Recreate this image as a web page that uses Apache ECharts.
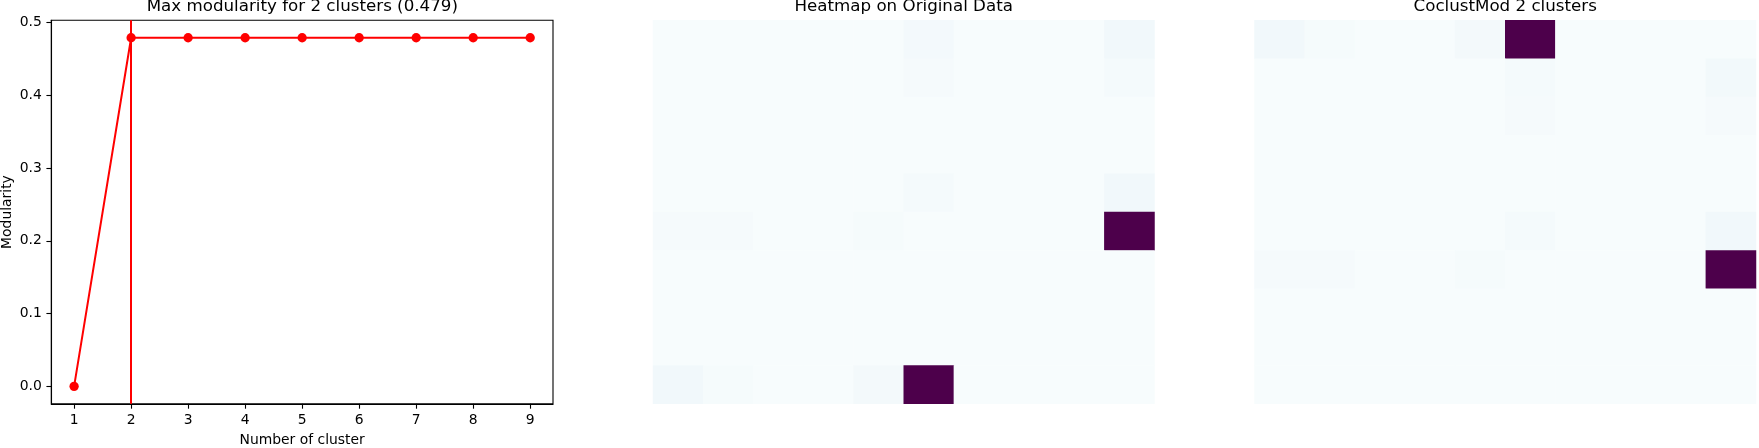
<!DOCTYPE html>
<html>
<head>
<meta charset="utf-8">
<script src="https://cdn.jsdelivr.net/npm/echarts@6/dist/echarts.min.js"></script>
<style>
html,body{margin:0;padding:0;background:#fff;}
#chart{width:1759px;height:448px;}
</style>
</head>
<body>
<div id="chart"></div>
<script>
// ---- data ----
const clusterCounts = [1, 2, 3, 4, 5, 6, 7, 8, 9];
const modularity = [0.0, 0.479, 0.479, 0.479, 0.479, 0.479, 0.479, 0.479, 0.479];
const bestCluster = 2;
const xTicks = [1, 2, 3, 4, 5, 6, 7, 8, 9];
const yTicks = [0.0, 0.1, 0.2, 0.3, 0.4, 0.5];
const titles = ['Max modularity for 2 clusters (0.479)', 'Heatmap on Original Data', 'CoclustMod 2 clusters'];
const xName = 'Number of cluster';
const yName = 'Modularity';
const heatCols = ['0','1','2','3','4','5','6','7','8','9'];
const heatRows = ['0','1','2','3','4','5','6','7','8','9'];
// original data (row 0 = top)
const originalData = [
  [0, 0, 0, 0, 0, 0.020, 0, 0, 0, 0.030],
  [0, 0, 0, 0, 0, 0.012, 0, 0, 0, 0.015],
  [0, 0, 0, 0, 0, 0, 0, 0, 0, 0],
  [0, 0, 0, 0, 0, 0, 0, 0, 0, 0],
  [0, 0, 0, 0, 0, 0.015, 0, 0, 0, 0.030],
  [0.012, 0.012, 0, 0, 0.010, 0, 0, 0, 0, 1.0],
  [0, 0, 0, 0, 0, 0, 0, 0, 0, 0],
  [0, 0, 0, 0, 0, 0, 0, 0, 0, 0],
  [0, 0, 0, 0, 0, 0, 0, 0, 0, 0],
  [0.030, 0.010, 0, 0, 0.022, 1.0, 0, 0, 0, 0]
];
// co-clustered (reordered) data
const coclustData = [
  [0.030, 0.010, 0, 0, 0.022, 1.0, 0, 0, 0, 0],
  [0, 0, 0, 0, 0, 0.015, 0, 0, 0, 0.025],
  [0, 0, 0, 0, 0, 0.012, 0, 0, 0, 0.012],
  [0, 0, 0, 0, 0, 0, 0, 0, 0, 0],
  [0, 0, 0, 0, 0, 0, 0, 0, 0, 0],
  [0, 0, 0, 0, 0, 0.015, 0, 0, 0, 0.030],
  [0.012, 0.012, 0, 0, 0.010, 0, 0, 0, 0, 1.0],
  [0, 0, 0, 0, 0, 0, 0, 0, 0, 0],
  [0, 0, 0, 0, 0, 0, 0, 0, 0, 0],
  [0, 0, 0, 0, 0, 0, 0, 0, 0, 0]
];
const buPu = ['#f7fcfd','#e0ecf4','#bfd3e6','#9ebcda','#8c96c6','#8c6bb1','#88419d','#810f7c','#4d004b'];

function toCells(m) {
  const out = [];
  m.forEach((row, r) => row.forEach((v, c) => out.push([c, r, v])));
  return out;
}

const FONT = 'DejaVu Sans';
const TITLE_FS = 16.7;
const TICK_FS = 13.9;
const chart = echarts.init(document.getElementById('chart'), null, {renderer: 'canvas'});

const titleStyle = {fontFamily: FONT, fontSize: TITLE_FS, fontWeight: 'normal', color: '#000'};
const option = {
  animation: false,
  backgroundColor: '#fff',
  textStyle: {fontFamily: FONT},
  title: [
    {text: titles[0], left: 302.3, top: -1.5, padding: 0, textAlign: 'center', textStyle: titleStyle},
    {text: titles[1], left: 903.7, top: -1.5, padding: 0, textAlign: 'center', textStyle: titleStyle},
    {text: titles[2], left: 1505.2, top: -1.5, padding: 0, textAlign: 'center', textStyle: titleStyle}
  ],
  grid: [
    {left: 51.3, top: 20.3, width: 501.7, height: 383.5, show: true, borderColor: '#000', borderWidth: 1.1, outerBoundsMode: 'none', containLabel: false},
    {left: 653, top: 20.3, width: 501.5, height: 383.5, show: false, outerBoundsMode: 'none', containLabel: false},
    {left: 1254.5, top: 20.3, width: 501.5, height: 383.5, show: false, outerBoundsMode: 'none', containLabel: false}
  ],
  xAxis: [
    {type: 'value', gridIndex: 0, min: 0.6, max: 9.4, splitNumber: 9,
     name: xName, nameLocation: 'middle', nameGap: 29.5,
     nameTextStyle: {fontFamily: FONT, fontSize: TICK_FS, color: '#000'},
     axisLine: {show: true, onZero: false, lineStyle: {color: '#000', width: 1.1}},
     axisTick: {show: true, length: 4.9, customValues: xTicks, lineStyle: {color: '#000', width: 1.1}},
     axisLabel: {show: true, margin: 9.5, customValues: xTicks, fontFamily: FONT, fontSize: TICK_FS, color: '#000'},
     splitLine: {show: false}},
    {type: 'category', gridIndex: 1, data: heatCols, show: false},
    {type: 'category', gridIndex: 2, data: heatCols, show: false}
  ],
  yAxis: [
    {type: 'value', gridIndex: 0, min: -0.02395, max: 0.50295,
     name: yName, nameLocation: 'middle', nameGap: 37, nameRotate: 90,
     nameTextStyle: {fontFamily: FONT, fontSize: TICK_FS, color: '#000'},
     axisLine: {show: true, onZero: false, lineStyle: {color: '#000', width: 1.1}},
     axisTick: {show: true, length: 4.9, customValues: yTicks, lineStyle: {color: '#000', width: 1.1}},
     axisLabel: {show: true, margin: 9.5, customValues: yTicks, fontFamily: FONT, fontSize: TICK_FS, color: '#000',
                 formatter: v => Number(v).toFixed(1)},
     splitLine: {show: false}},
    {type: 'category', gridIndex: 1, data: heatRows, inverse: true, show: false},
    {type: 'category', gridIndex: 2, data: heatRows, inverse: true, show: false}
  ],
  visualMap: [
    {show: false, seriesIndex: 1, min: 0, max: 1, dimension: 2, inRange: {color: buPu}},
    {show: false, seriesIndex: 2, min: 0, max: 1, dimension: 2, inRange: {color: buPu}}
  ],
  series: [
    {type: 'line', xAxisIndex: 0, yAxisIndex: 0,
     data: clusterCounts.map((c, i) => [c, modularity[i]]),
     symbol: 'circle', symbolSize: 9.3, showAllSymbol: true,
     lineStyle: {color: '#ff0000', width: 2},
     itemStyle: {color: '#ff0000'},
     silent: true,
     markLine: {silent: true, symbol: 'none', label: {show: false},
       lineStyle: {color: '#ff0000', width: 2, type: 'solid'},
       data: [{xAxis: bestCluster}]}},
    {type: 'heatmap', xAxisIndex: 1, yAxisIndex: 1, data: toCells(originalData), silent: true,
     itemStyle: {borderWidth: 0}},
    {type: 'heatmap', xAxisIndex: 2, yAxisIndex: 2, data: toCells(coclustData), silent: true,
     itemStyle: {borderWidth: 0}}
  ]
};
chart.setOption(option);
</script>
</body>
</html>
